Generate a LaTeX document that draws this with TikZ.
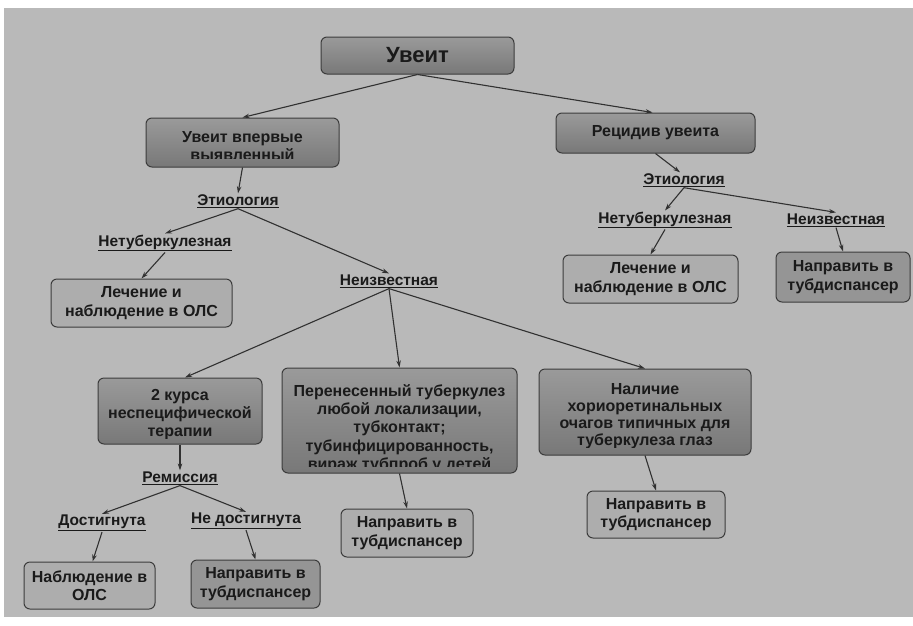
\documentclass[tikz,border=0pt]{standalone}
\usepackage{fontspec}
\setmainfont{Liberation Sans}
\usepackage{tikz}
\usetikzlibrary{arrows.meta,positioning,shadings}

\definecolor{slide}{HTML}{B9B9B9}
\definecolor{ink}{HTML}{1A1A1A}
\definecolor{boxtop}{HTML}{9A9A9A}
\definecolor{boxbot}{HTML}{787878}
\definecolor{boxlight}{HTML}{ADADAD}
\definecolor{boxmid}{HTML}{959595}

\begin{document}
\begin{tikzpicture}[
  x=1pt,y=-1pt,
  every node/.style={font=\bfseries\fontsize{16}{18.5}\selectfont,text=ink,align=center},
  dk/.style={draw=ink!85,line width=1pt,rounded corners=6pt,top color=boxtop,bottom color=boxbot,inner sep=2pt},
  lt/.style={draw=ink!85,line width=1pt,rounded corners=6pt,fill=boxlight,inner sep=2pt},
  md/.style={draw=ink!85,line width=1pt,rounded corners=6pt,fill=boxmid,inner sep=2pt},
  lab/.style={font=\bfseries\fontsize{15.5}{17}\selectfont,inner sep=1pt},
  % text that overflows the box and is cut at its lower edge
  cut/.style n args={4}{path picture={
    \clip (path picture bounding box.north west) rectangle ([yshift=#2]path picture bounding box.south east);
    \node[font=\bfseries\fontsize{16}{#3}\selectfont] at ([yshift=#1]path picture bounding box.center) {#4};}},
  arr/.style={draw=ink!90,line width=1.1pt,-{Stealth[length=7pt,width=4.5pt]}}
]
% slide background
\fill[white] (0,0) rectangle (913,625);
\fill[slide] (4,8) rectangle (913,617);

% top level
\node[dk,minimum width=193pt,minimum height=37pt,font=\bfseries\fontsize{22}{24}\selectfont] (uv) at (417.5,55.5) {Увеит};
\node[dk,minimum width=193pt,minimum height=49pt,
  cut={-4pt}{9pt}{18}{Увеит впервые\\выявленный}] (first) at (242.5,142.5) {};
\node[dk,minimum width=199pt,minimum height=40pt] (rec) at (655.5,133) {Рецидив увеита};

% left branch
\node[lab] (et1) at (238,201) {\underline{Этиология}};
\node[lab] (nt1) at (165,243) {\underline{Нетуберкулезная}};
\node[lab] (nz1) at (389,281) {\underline{Неизвестная}};
\node[lt,minimum width=181pt,minimum height=48pt] (lech1) at (141.5,303) {Лечение и\\наблюдение в ОЛС};

\node[dk,minimum width=164pt,minimum height=66pt,
  cut={-4pt}{6pt}{18}{2 курса\\неспецифической\\терапии}] (kurs) at (180,411) {};
\node[dk,minimum width=235pt,minimum height=105pt,
  cut={-8pt}{7pt}{18.3}{Перенесенный туберкулез\\любой локализации,\\тубконтакт;\\тубинфицированность,\\вираж тубпроб у детей}] (pern) at (399.5,420.5) {};
\node[dk,minimum width=212pt,minimum height=86pt,
  cut={-4.5pt}{8pt}{17}{Наличие\\хориоретинальных\\очагов типичных для\\туберкулеза глаз}] (nal) at (645,412) {};

\node[lab] (rem) at (180,478) {\underline{Ремиссия}};
\node[lab] (dost) at (102,523) {\underline{Достигнута}};
\node[lab] (nedost) at (246,521) {\underline{Не достигнута}};
\node[lt,minimum width=131pt,minimum height=47pt] (nabl) at (89.5,585.5) {Наблюдение в\\ОЛС};
\node[md,minimum width=129pt,minimum height=48pt] (napA) at (255.5,584) {Направить в\\тубдиспансер};
\node[lt,minimum width=132pt,minimum height=48pt] (napB) at (407,533) {Направить в\\тубдиспансер};
\node[lt,minimum width=138pt,minimum height=47pt] (napC) at (656,514.5) {Направить в\\тубдиспансер};

% right branch
\node[lab] (et2) at (684,180) {\underline{Этиология}};
\node[lab] (nt2) at (665,220) {\underline{Нетуберкулезная}};
\node[lab] (nz2) at (836,220) {\underline{Неизвестная}};
\node[lt,minimum width=175pt,minimum height=48pt] (lech2) at (650.5,279) {Лечение и\\наблюдение в ОЛС};
\node[md,minimum width=134pt,minimum height=50pt] (nap2) at (843,277) {Направить в\\тубдиспансер};

% connectors
\draw[arr] (uv.south) -- (first.north);
\draw[arr] (uv.south) -- ([xshift=-3pt]rec.north);
\draw[arr] (first.south) -- (et1.north);
\draw[arr] (et1.south) -- (nt1.north);
\draw[arr] (et1.south) -- (nz1.north);
\draw[arr] (nt1.south) -- (lech1.north);
\draw[arr] (nz1.south) -- ([xshift=5pt]kurs.north);
\draw[arr] (nz1.south) -- (pern.north);
\draw[arr] (nz1.south) -- (nal.north);
\draw[arr] (kurs.south) -- (rem.north);
\draw[arr] (rem.south) -- (dost.north);
\draw[arr] (rem.south) -- (nedost.north);
\draw[arr] (dost.south) -- ([xshift=3pt]nabl.north);
\draw[arr] (nedost.south) -- (napA.north);
\draw[arr] (pern.south) -- (napB.north);
\draw[arr] (nal.south) -- (napC.north);
\draw[arr] (rec.south) -- ([xshift=-4pt]et2.north);
\draw[arr] (et2.south) -- (nt2.north);
\draw[arr] (et2.south) -- (nz2.north);
\draw[arr] (nt2.south) -- (lech2.north);
\draw[arr] (nz2.south) -- (nap2.north);
\end{tikzpicture}
\end{document}
